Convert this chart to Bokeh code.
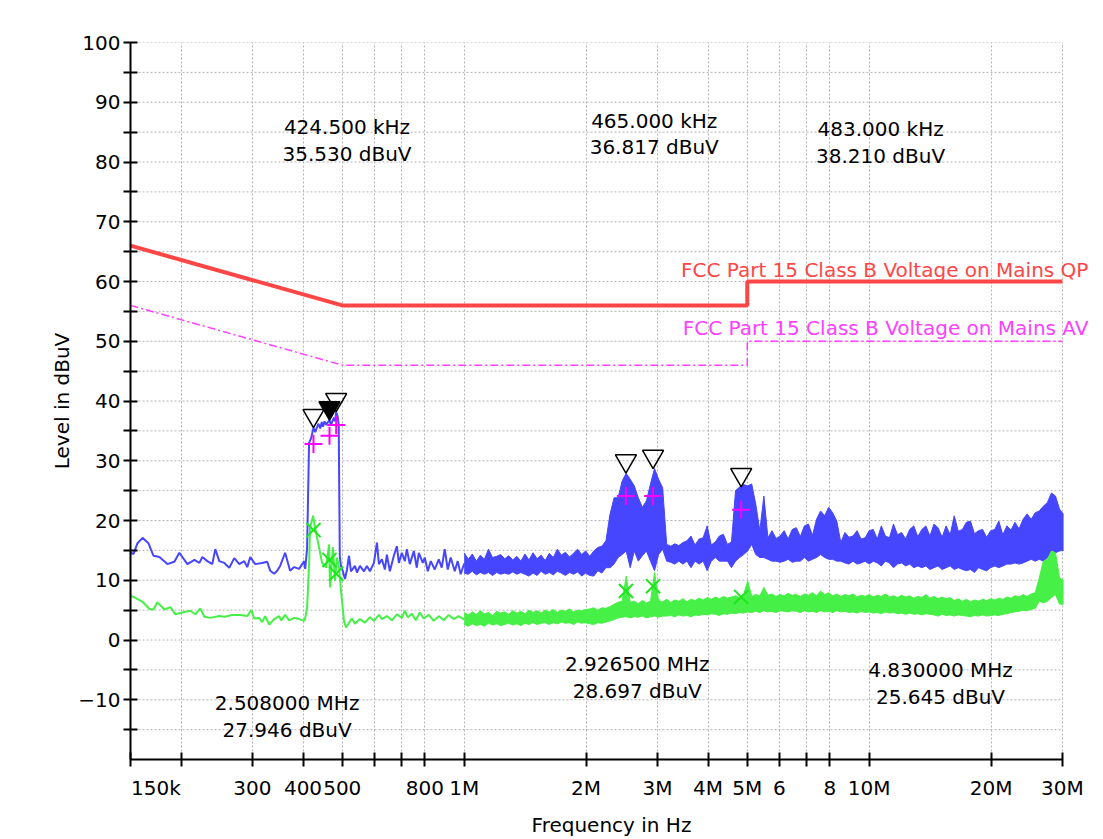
import numpy as np
from bokeh.plotting import figure
from bokeh.models import Range1d, FixedTicker, Label
from bokeh.embed import file_html
from bokeh.resources import INLINE

# ---------------- data ----------------
# FCC Part 15 Class B limit lines (Hz, dBuV)
qp_limit_f = [150e3, 500e3, 5e6, 5e6, 30e6]
qp_limit_L = [66, 56, 56, 60, 60]
av_limit_f = [150e3, 500e3, 5e6, 5e6, 30e6]
av_limit_L = [56, 46, 46, 50, 50]

# peak trace, 150 kHz .. 1 MHz (kHz, dBuV)
pk_line_f_khz = [150, 152.6, 156.1, 160.6, 166.1, 170.9, 176.8, 185.0, 192.5, 198.0, 207.3, 215.7, 221.9,
                 225.7, 232.2, 238.8, 242.9, 248.5, 255.7, 263.0, 270.6, 278.4, 286.4, 291.3, 296.3, 304.8,
                 317.1, 326.3, 331.9, 339.5, 345.3, 351.2, 361.3, 371.7, 380.3, 391.2, 402.5, 405, 409.4,
                 414, 419, 424.5, 429, 433, 437, 441, 445, 448, 452, 456, 460, 465, 469, 472, 477, 480, 483,
                 487, 490, 493, 496, 499.2, 507.8, 513.6, 519.5, 525.4, 537.4, 543.6, 552.9, 565.6, 575.3,
                 585.2, 598.6, 608.9, 615.8, 626.4, 637.1, 644.3, 655.4, 670.4, 681.9, 689.7, 701.5, 713.6,
                 721.7, 734.1, 751.0, 763.8, 772.6, 790.3, 799.3, 813.0, 827.0, 845.9, 865.4, 880.2, 895.3,
                 910.7, 926.3, 947.6, 963.8, 980.4, 1000]
pk_line_L = [14.6, 14.4, 16.2, 17.1, 16.2, 14.1, 13.9, 12.7, 13.1, 14.6, 12.7, 13.4, 12.9,
             13.9, 13.2, 12.7, 15.2, 13.2, 12.9, 12.1, 13.7, 12.7, 13.2, 12.2, 13.9, 12.7,
             12.9, 13.1, 11.6, 11.1, 11.6, 12.4, 14.6, 11.6, 12.2, 11.9, 13.2, 11.9, 15.4,
             33.0, 33.8, 35.5, 34.8, 35.6, 36.2, 35.4, 36.5, 35.7, 36.6, 36.0, 36.4, 36.8, 35.9, 36.5, 37.2, 36.6, 38.2,
             37.4, 36.0, 14.0, 12.5, 12.0, 10.2, 11.8, 14.1, 11.5, 12.4, 11.3, 12.4, 11.5, 12.4,
             11.5, 12.9, 16.3, 12.7, 13.5, 11.8, 14.3, 11.5, 14.1, 15.7, 12.9, 14.6, 13.2,
             15.2, 12.7, 14.9, 12.1, 14.6, 12.9, 13.8, 11.5, 13.2, 11.8, 13.5, 12.1, 15.2,
             11.8, 13.8, 11.5, 13.2, 11.0, 12.8]

# dense sweep 1 MHz .. 30 MHz: log10(f) from 6.00 to 7.48 in 149 points
sweep_log_start, sweep_log_stop, sweep_points = 6.0, 7.48, 149
pk_hi = [14.6, 13.5, 14.4, 13.2, 14.2, 13.5, 15.2, 13.8, 14.0, 14.3,
         13.6, 14.1, 13.4, 14.0, 13.2, 14.4, 13.4, 14.6, 13.6, 14.2,
         13.3, 14.5, 13.8, 15.2, 14.2, 14.7, 13.9, 14.5, 15.2, 14.3,
         14.9, 14.0, 14.9, 15.5, 15.7, 16.6, 21.0, 23.8, 23.8, 26.6,
         27.9, 26.9, 25.8, 23.8, 22.2, 23.3, 26.1, 28.7, 26.9, 25.5,
         16.0, 15.7, 16.1, 15.8, 16.3, 16.6, 17.4, 15.9, 16.9, 17.1,
         19.1, 15.9, 16.4, 17.4, 17.7, 16.0, 16.4, 25.0, 25.6, 26.0,
         25.8, 26.1, 22.7, 18.3, 24.1, 17.1, 18.3, 17.0, 17.4, 18.3,
         16.9, 18.5, 18.8, 17.3, 19.1, 19.4, 17.5, 20.2, 21.6, 20.8,
         22.2, 21.3, 19.9, 16.3, 18.0, 17.2, 17.4, 18.3, 16.9, 17.1,
         18.3, 18.5, 16.9, 19.1, 17.4, 17.1, 19.4, 17.6, 18.0, 16.9,
         18.5, 19.1, 17.3, 18.5, 19.1, 17.4, 19.4, 18.8, 17.2, 19.1,
         17.6, 20.8, 18.2, 18.5, 19.7, 19.9, 17.8, 18.3, 18.5, 17.2,
         18.3, 18.5, 19.9, 17.6, 19.1, 18.4, 19.7, 18.6, 20.2, 21.1,
         20.2, 21.3, 21.6, 22.4, 23.0, 24.6, 24.1, 21.9, 21.0]
pk_lo = [11.2, 11.0, 11.5, 10.9, 11.3, 11.0, 11.3, 10.8, 11.3, 11.0,
         11.2, 11.0, 11.4, 11.0, 11.3, 11.0, 10.7, 11.2, 10.8, 11.5,
         11.0, 11.3, 10.9, 11.5, 11.2, 10.8, 11.3, 11.0, 11.4, 10.7,
         11.2, 10.8, 10.7, 11.6, 11.2, 12.1, 12.1, 12.7, 13.8, 14.3,
         14.9, 12.1, 14.9, 13.2, 14.1, 14.9, 13.2, 11.6, 14.3, 15.2,
         13.2, 13.0, 12.7, 13.2, 12.7, 13.2, 12.1, 13.2, 12.7, 13.2,
         11.6, 13.2, 13.8, 13.2, 13.2, 13.2, 12.1, 13.2, 13.8, 14.3,
         14.9, 16.0, 14.3, 13.8, 13.8, 13.5, 13.2, 13.2, 13.0, 13.2,
         13.5, 13.0, 13.2, 13.2, 13.8, 13.2, 13.5, 13.8, 14.3, 13.8,
         13.5, 13.5, 13.2, 13.2, 12.9, 12.7, 13.2, 12.7, 12.9, 13.2,
         12.7, 13.2, 12.9, 12.4, 13.2, 12.9, 12.1, 12.7, 12.9, 12.4,
         12.7, 12.1, 12.4, 12.1, 12.4, 11.8, 12.1, 12.4, 11.8, 12.1,
         12.4, 11.8, 12.1, 11.8, 11.6, 11.8, 11.3, 12.1, 11.8, 11.6,
         12.1, 12.4, 12.1, 12.4, 12.7, 12.7, 12.9, 12.7, 12.9, 13.2,
         13.5, 13.2, 13.5, 13.2, 13.8, 14.4, 14.6, 14.9, 15.0]

# average trace, 150 kHz .. 1 MHz (kHz, dBuV)
av_line_f_khz = [150, 152.6, 160.6, 167.1, 170.9, 174.8, 181.9, 188.2, 193.6, 203.7, 210.8, 216.9, 223.1,
                 228.2, 236.1, 248.5, 255.7, 267.5, 279.9, 291.3, 298.0, 303.1, 311.8, 317.1, 322.6, 330.0,
                 339.5, 349.2, 353.2, 361.3, 369.6, 380.3, 391.2, 402.5, 405, 409.4, 414, 416.4, 423.6,
                 428.4, 438.2, 445.7, 456, 463.8, 466.4, 474.3, 479.8, 485.2, 491, 496.4, 505.0, 510.7,
                 519.5, 528, 537.4, 552.9, 568.8, 585.2, 598.6, 615.8, 626.4, 644.3, 663, 681.9, 701.5,
                 713.6, 725.8, 743, 759.5, 776.9, 794.8, 817.6, 841.2, 865.4, 890.3, 915.9, 942.2, 969.3, 1000]
av_line_L = [7.4, 7.2, 6.4, 5.2, 5.1, 6.3, 5.1, 5.5, 4.3, 4.7, 4.9, 4.3, 5.3,
             3.9, 3.7, 4.0, 3.9, 4.2, 4.2, 4.0, 5.0, 3.6, 3.7, 3.0, 4.0, 2.6,
             3.5, 4.0, 3.3, 4.2, 3.3, 3.7, 3.5, 3.2, 3.7, 5.4, 12.7, 18.8, 20.8,
             18.8, 15.5, 12.9, 12.1, 16.0, 8.8, 15.5, 9.9, 13.8, 12.1, 8.2, 3.2, 2.1,
             2.9, 3.6, 2.7, 3.5, 2.9, 3.8, 3.2, 4.2, 3.5, 4.0, 3.3, 4.3, 3.7,
             4.9, 3.8, 4.4, 3.3, 4.6, 3.6, 4.2, 3.2, 4.0, 3.3, 4.2, 3.5, 4.0, 3.4]

av_hi = [4.6, 4.2, 4.7, 4.3, 4.9, 4.4, 4.6, 4.1, 4.8, 4.5,
         4.7, 4.3, 4.9, 4.5, 4.8, 4.4, 5.0, 4.6, 4.9, 4.5,
         5.0, 4.7, 5.1, 4.6, 5.0, 4.8, 5.2, 4.7, 5.0, 4.9,
         5.1, 5.2, 5.4, 5.0, 5.4, 5.3, 5.6, 6.0, 6.3, 6.5,
         10.7, 6.3, 6.5, 6.1, 6.6, 6.2, 6.5, 11.3, 6.6, 6.4,
         6.8, 6.3, 6.7, 6.5, 6.9, 6.4, 6.8, 6.6, 7.0, 6.7,
         7.1, 6.8, 7.2, 6.9, 7.3, 7.0, 7.2, 7.4, 7.1, 7.6,
         9.9, 7.3, 7.6, 7.4, 8.8, 7.5, 7.7, 7.3, 7.6, 7.4,
         7.8, 7.5, 7.6, 7.3, 7.7, 7.5, 7.9, 7.4, 8.2, 7.6,
         7.9, 7.4, 7.7, 7.3, 7.6, 7.4, 7.7, 7.2, 7.5, 7.3,
         7.6, 7.2, 7.5, 7.3, 7.7, 7.2, 7.4, 7.1, 7.5, 7.2,
         7.4, 7.0, 7.3, 7.1, 7.6, 7.0, 7.3, 6.9, 7.2, 6.9,
         7.1, 6.6, 6.9, 6.5, 6.8, 6.4, 6.7, 6.5, 6.8, 6.6,
         6.9, 6.7, 7.0, 6.8, 7.2, 7.0, 7.4, 7.2, 7.6, 7.3,
         7.7, 7.9, 10.4, 13.2, 13.5, 14.9, 14.6, 10.4, 10.0]
av_lo = [2.6, 2.3, 2.7, 2.4, 2.6, 2.3, 2.8, 2.5, 2.7, 2.4,
         2.6, 2.8, 2.5, 2.7, 2.4, 2.8, 2.6, 2.9, 2.6, 2.8,
         2.9, 2.6, 2.9, 2.7, 3.0, 2.8, 2.9, 2.6, 3.0, 2.8,
         2.9, 2.7, 2.6, 2.9, 2.8, 3.0, 3.2, 3.4, 3.7, 3.8,
         3.9, 3.7, 3.9, 3.8, 4.0, 3.7, 3.9, 4.0, 3.8, 4.0,
         4.0, 4.1, 3.9, 4.2, 4.0, 4.1, 3.9, 4.2, 4.1, 4.3,
         4.2, 4.4, 4.3, 4.1, 4.4, 4.3, 4.5, 4.4, 4.6, 4.5,
         4.7, 4.6, 4.8, 4.6, 4.9, 4.7, 4.8, 4.6, 4.9, 4.8,
         4.7, 4.9, 4.8, 4.6, 4.9, 4.7, 4.8, 4.6, 4.9, 4.7,
         4.8, 4.6, 4.9, 4.7, 4.8, 4.6, 4.7, 4.5, 4.8, 4.6,
         4.7, 4.5, 4.6, 4.4, 4.7, 4.5, 4.6, 4.4, 4.5, 4.3,
         4.5, 4.3, 4.4, 4.2, 4.4, 4.3, 4.2, 4.0, 4.3, 4.1,
         4.2, 4.0, 4.2, 4.1, 4.0, 3.9, 4.1, 4.0, 4.2, 4.0,
         4.1, 4.2, 4.1, 4.3, 4.4, 4.6, 4.7, 4.8, 5.0, 4.9,
         5.1, 5.3, 6.5, 6.2, 6.5, 7.1, 7.6, 6.0, 6.0]

# markers
mk_f = [424.5e3, 465e3, 483e3, 2.508e6, 2.9265e6, 4.83e6]
mk_peak = [35.530, 36.817, 38.210, 27.946, 28.697, 25.645]
mk_qp = [32.8, 34.2, 36.0, 24.1, 24.1, 21.8]
mk_av = [18.4, 13.4, 11.1, 8.2, 9.0, 7.2]
mk_selected = 1

# axis ticks
F_START, F_STOP = 150e3, 30e6
x_ticks = [150e3, 200e3, 300e3, 400e3, 500e3, 600e3, 700e3, 800e3, 1e6, 2e6, 3e6, 4e6, 5e6,
           6e6, 7e6, 8e6, 10e6, 20e6, 30e6]
x_tick_text = ["150k", "", "300", "400", "500", "", "", "800", "1M", "2M", "3M", "4M", "5M",
               "6", "", "8", "10M", "20M", "30M"]
y_major = list(range(-10, 101, 10))
y_minor = list(range(-15, 100, 10))

qp_limit_name = "FCC Part 15 Class B Voltage on Mains QP"
av_limit_name = "FCC Part 15 Class B Voltage on Mains AV"

# readout label placement (layout only)
readout_x = [513.6e3, 2.946e6, 10.67e6, 365.4e3, 2.675e6, 15.0e6]
readout_y = [83.6, 84.7, 83.25, -12.8, -6.3, -7.3]

# ---------------- styles / geometry ----------------
FONT = "DejaVu Sans"
FS = "20px"
BLUE = "#4646ff"
GREEN = "#46f046"
RED = "#ff4646"
MAGENTA = "#ff40ff"
GRID = "#b4b4b4"

W, H = 1100, 839
BL, BR, BT, BB = 130, 8, 42, 80
PX_PER_DECADE = 405.0
Y0, Y1 = -20, 100
px_per_db = (H - BT - BB) / (Y1 - Y0)
x_right = F_START * 10 ** ((W - BL - BR) / PX_PER_DECADE)   # room for the limit names
label_right = F_STOP * 10 ** (26 / PX_PER_DECADE)

p = figure(width=W, height=H, x_axis_type="log",
           x_range=Range1d(F_START, x_right), y_range=Range1d(Y0, Y1),
           output_backend="svg", toolbar_location=None,
           min_border_left=BL, min_border_right=BR, min_border_top=BT, min_border_bottom=BB)
p.outline_line_color = None
p.background_fill_color = "white"
p.border_fill_color = "white"

xt = FixedTicker(ticks=x_ticks)
yt = FixedTicker(ticks=y_major, minor_ticks=y_minor)
p.xaxis.ticker = xt
p.yaxis.ticker = yt
p.xgrid.ticker = xt
p.xaxis.bounds = (F_START, F_STOP)
p.xgrid.bounds = (F_START, F_STOP)
nb = "\u00a0"
overrides = {float(t): s for t, s in zip(x_ticks, x_tick_text)}
overrides[float(x_ticks[0])] = nb * 8 + x_tick_text[0]   # instrument shifts the first label right
p.xaxis.major_label_overrides = overrides

p.xgrid.grid_line_color = GRID
p.xgrid.grid_line_dash = "2 2"
p.xgrid.grid_line_width = 1
p.ygrid.visible = False
# horizontal dotted grid, limited to the axis span
hg = sorted(y_major + y_minor)
p.segment(x0=[F_START] * len(hg), x1=[F_STOP] * len(hg), y0=hg, y1=hg,
          line_color=GRID, line_dash="2 2", line_width=1, level="underlay")

for ax in (p.xaxis, p.yaxis):
    ax.axis_line_color = "black"
    ax.axis_line_width = 2
    ax.major_tick_line_color = "black"
    ax.major_tick_line_width = 2
    ax.major_tick_in = 7
    ax.major_tick_out = 7
    ax.major_label_text_font = FONT
    ax.major_label_text_font_size = FS
    ax.major_label_text_color = "black"
    ax.axis_label_text_font = FONT
    ax.axis_label_text_font_size = FS
    ax.axis_label_text_font_style = "normal"
    ax.axis_label_text_color = "black"
p.yaxis.minor_tick_line_color = "black"
p.yaxis.minor_tick_line_width = 2
p.yaxis.minor_tick_in = 7
p.yaxis.minor_tick_out = 7
p.xaxis.minor_tick_line_color = None
p.yaxis.major_label_standoff = 3
p.xaxis.major_label_standoff = 9
p.yaxis.axis_label = "Level in dBuV"
p.xaxis.axis_label = "Frequency in Hz"
p.yaxis.axis_label_standoff = 1
p.xaxis.axis_label_standoff = 10

# limit lines
p.line(qp_limit_f, qp_limit_L, line_color=RED, line_width=4)
p.line(av_limit_f, av_limit_L, line_color=MAGENTA, line_width=1.5, line_dash="8 3 2 3")

# traces
sweep_f = np.logspace(sweep_log_start, sweep_log_stop, sweep_points)
p.varea(x=sweep_f, y1=pk_lo, y2=pk_hi, fill_color=BLUE)
p.line(sweep_f, pk_hi, line_color=BLUE, line_width=1)
p.line(sweep_f, pk_lo, line_color=BLUE, line_width=1)
p.line([f * 1e3 for f in pk_line_f_khz], pk_line_L, line_color=BLUE, line_width=2)

p.varea(x=sweep_f, y1=av_lo, y2=av_hi, fill_color=GREEN)
p.line(sweep_f, av_hi, line_color=GREEN, line_width=1)
p.line(sweep_f, av_lo, line_color=GREEN, line_width=1)
p.line([f * 1e3 for f in av_line_f_khz], av_line_L, line_color=GREEN, line_width=2)

# markers
TRI = 21
tri_shift = (TRI / 2) * np.sqrt(3) * 2 / 3 / px_per_db   # tip of the triangle sits on the value
tri_y = [v + tri_shift for v in mk_peak]
fills = ["black" if i == mk_selected else None for i in range(len(mk_f))]
p.scatter(mk_f, tri_y, marker="inverted_triangle", size=TRI, line_color="black",
          line_width=1.5, fill_color=fills)
p.scatter(mk_f, mk_qp, marker="cross", size=18, line_color="#ff00ff", line_width=2)
p.scatter(mk_f, mk_av, marker="x", size=20, line_color="#1ee61e", line_width=2)

# readouts
for f, L, x, y in zip(mk_f, mk_peak, readout_x, readout_y):
    ftxt = f"{f/1e3:.3f} kHz" if f < 1e6 else f"{f/1e6:.6f} MHz"
    for txt, yy in ((ftxt, y + 2.2), (f"{L:.3f} dBuV", y - 2.2)):
        p.add_layout(Label(x=x, y=yy, text=txt, text_align="center", text_baseline="middle",
                           text_font=FONT, text_font_size=FS, text_color="black"))

# limit line names
p.add_layout(Label(x=label_right, y=qp_limit_L[-1] + 2.0, text=qp_limit_name,
                   text_align="right", text_baseline="middle", text_font=FONT,
                   text_font_size=FS, text_color=RED))
p.add_layout(Label(x=label_right, y=av_limit_L[-1] + 2.3, text=av_limit_name,
                   text_align="right", text_baseline="middle", text_font=FONT,
                   text_font_size=FS, text_color=MAGENTA))

open("out.html", "w").write(file_html(p, INLINE))
